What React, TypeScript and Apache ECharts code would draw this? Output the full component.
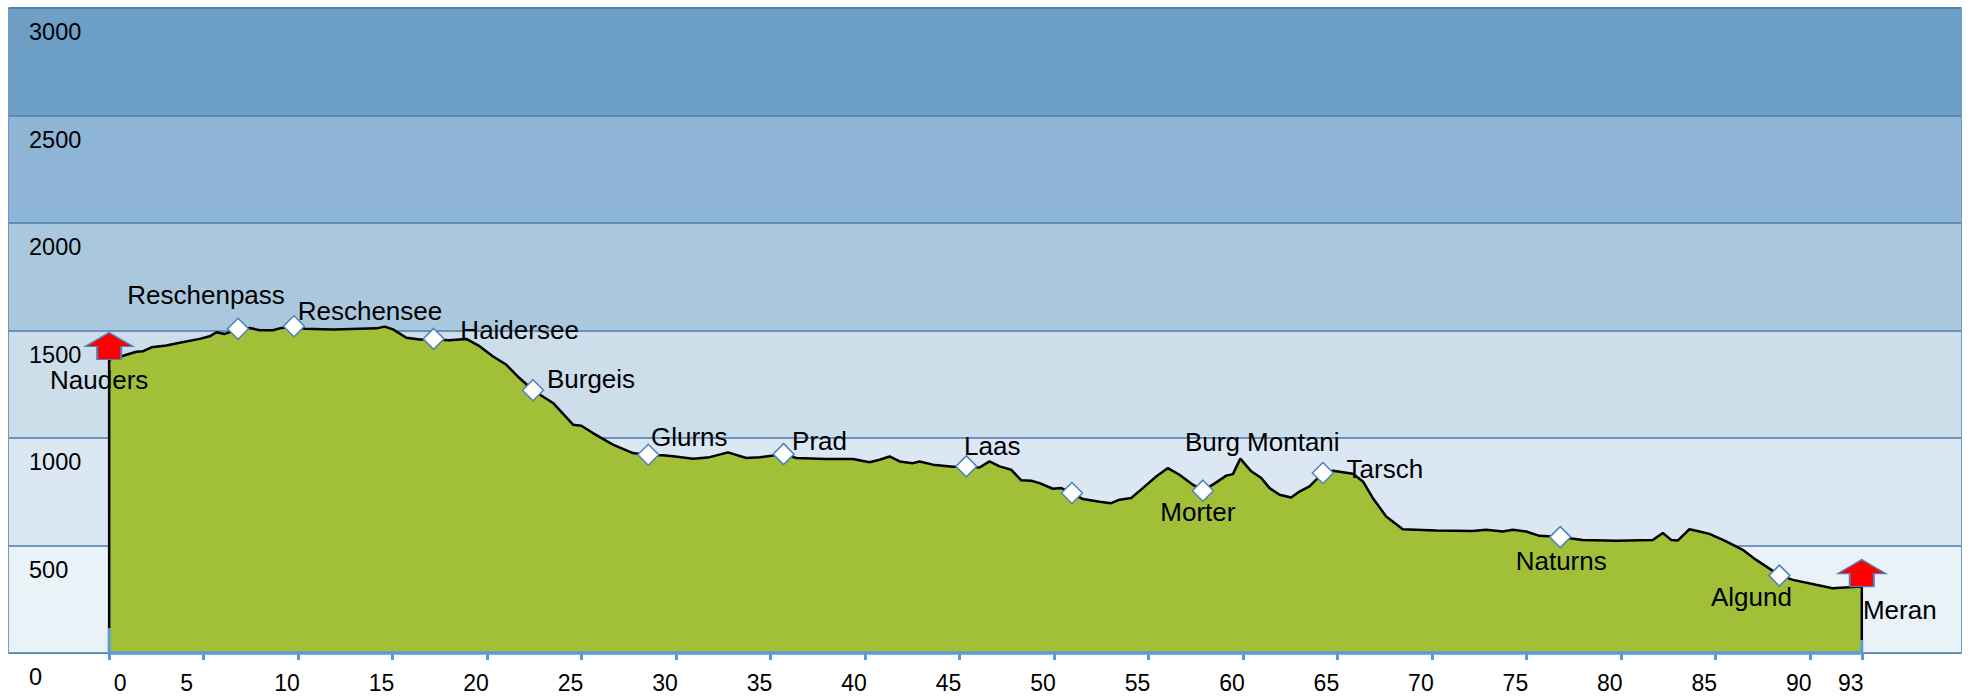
import { useEffect, useRef } from 'react';
import * as echarts from 'echarts';

// Elevation profile (km, metres)
const profileKm = [
  0, 0, 0.65, 1.44, 1.8, 2.24, 3.03, 3.73, 4.79, 5.32, 5.68, 6.12, 6.82, 7.44, 7.97, 8.67, 9.12, 9.78,
  10.35, 11.85, 13.26, 14.14, 14.58, 15.02, 15.73, 16.43, 17.17, 18.02, 18.9, 19.6, 20.3, 21.0, 21.7,
  22.43, 23.49, 24.55, 24.99, 25.6, 26.66, 27.72, 28.53, 29.3, 29.84, 30.9, 31.78, 32.75, 33.72, 34.42,
  35.69, 36.37, 37.95, 39.36, 40.24, 40.77, 41.3, 41.83, 42.53, 42.89, 43.59, 44.65, 45.36, 46.06, 46.59,
  47.12, 47.74, 48.27, 48.8, 49.24, 49.94, 50.39, 50.95, 51.53, 52.41, 53.03, 53.47, 54.09, 54.7, 55.41,
  56.03, 56.64, 57.35, 57.88, 58.41, 59.12, 59.47, 59.86, 60.44, 60.97, 61.41, 61.94, 62.55, 62.99, 63.52,
  64.23, 64.76, 65.82, 66.35, 66.87, 67.58, 68.46, 70.23, 72.17, 72.87, 73.75, 74.28, 74.99, 75.69, 76.79,
  77.98, 79.75, 81.69, 82.22, 82.66, 83.01, 83.63, 84.16, 84.69, 85.57, 86.45, 87.16, 88.39, 89.1, 90.33,
  91.2, 92.08, 92.75, 92.75,
];
const profileElev = [
  116, 1365, 1380, 1401, 1404, 1422, 1430, 1443, 1461, 1473, 1492, 1484, 1505, 1512, 1501, 1501, 1512, 1518,
  1508, 1505, 1508, 1510, 1518, 1505, 1466, 1458, 1458, 1455, 1461, 1427, 1380, 1342, 1280,
  1222, 1163, 1062, 1057, 1023, 969, 930, 920, 920, 915, 904, 911, 933, 907, 910,
  925, 907, 902, 902, 887, 899, 914, 891, 883, 891, 876, 866, 866, 863, 891,
  868, 852, 803, 801, 790, 764, 767, 744, 716, 703, 697, 713, 721, 767, 821,
  860, 829, 783, 755, 783, 825, 832, 904, 845, 814, 767, 736, 723, 751, 775,
  837, 848, 834, 798, 721, 635, 576, 570, 568, 573, 565, 573, 565, 545, 539,
  526, 522, 526, 558, 526, 523, 576, 565, 554, 519, 480, 433, 362, 340, 317,
  301, 306, 309, 60,
];

// Waypoints with diamond markers
const placeNames = ['Reschenpass', 'Reschensee', 'Haidersee', 'Burgeis', 'Glurns', 'Prad', 'Laas', '', 'Morter', 'Tarsch', 'Naturns', 'Algund'];
const placeKm = [6.82, 9.78, 17.17, 22.43, 28.53, 35.69, 45.36, 50.95, 57.88, 64.23, 76.79, 88.39];
const placeElev = [1508, 1520, 1461, 1222, 922, 925, 868, 744, 755, 837, 539, 360];

// Text-only labels
const textNames = ['Nauders', 'Burg Montani', 'Meran'];
const textKm = [0, 59.86, 92.75];
const textElev = [1365, 904, 309];

// Start / finish arrows
const endKm = [0, 92.75];
const endElev = [1365, 309];

// Small stubs under the start and finish
const stubKm = [0, 92.75];
const stubElev = [116, 60];

const kmTicks = [0, 5, 10, 15, 20, 25, 30, 35, 40, 45, 50, 55, 60, 65, 70, 75, 80, 85, 90, 92.75];
const kmTickLabels = ['0', '5', '10', '15', '20', '25', '30', '35', '40', '45', '50', '55', '60', '65', '70', '75', '80', '85', '90', '93'];

// label placement (style only)
const labelOffsets: Record<string, [number, number]> = {
  Reschenpass: [-32, -34],
  Reschensee: [76, -15],
  Haidersee: [86, -9],
  Burgeis: [58, -11],
  Glurns: [41, -18],
  Prad: [36, -13],
  Laas: [26, -20],
  Morter: [-5, 21],
  Tarsch: [62, -4],
  Naturns: [1, 24],
  Algund: [-28, 21],
  Nauders: [-10, 20],
  'Burg Montani': [22, -17],
  Meran: [38, 23],
};

const FONT = 'Liberation Sans, Arial, sans-serif';
const ARROW = 'path://M24,0 L48,14 L36,14 L36,27 L12,27 L12,14 L0,14 Z';

export default function App() {
  const ref = useRef<HTMLDivElement>(null);
  useEffect(() => {
    if (!ref.current) return;
    const chart = echarts.init(ref.current, null, { renderer: 'svg' });
    const profile = profileKm.map((k, i) => [k, profileElev[i]]);
    const places = placeKm.map((k, i) => ({
      value: [k, placeElev[i]],
      name: placeNames[i],
      label: { show: placeNames[i] !== '', offset: labelOffsets[placeNames[i]] || [0, 0] },
    }));
    const texts = textKm.map((k, i) => ({
      value: [k, textElev[i]],
      name: textNames[i],
      label: { show: true, offset: labelOffsets[textNames[i]] },
    }));
    const labelStyle = {
      show: true,
      position: 'inside',
      formatter: '{b}',
      color: '#000',
      opacity: 1,
      fontFamily: FONT,
      fontSize: 26,
      align: 'center',
      verticalAlign: 'middle',
    };
    chart.setOption({
      animation: false,
      grid: {
        left: 9,
        right: 10,
        top: 8,
        bottom: 44,
        show: true,
        borderColor: '#4a7aab',
        borderWidth: 1.5,
        backgroundColor: 'transparent',
      },
      xAxis: {
        type: 'value',
        min: -5.3,
        max: 98,
        splitLine: { show: false },
        axisLine: { show: false },
        axisTick: {
          show: true,
          customValues: kmTicks,
          length: 7,
          inside: false,
          lineStyle: { color: '#5b9bd5', width: 3 },
        },
        axisLabel: {
          customValues: kmTicks,
          margin: 18,
          color: '#000',
          fontFamily: FONT,
          fontSize: 23,
          formatter: (v: number) => {
            const idx = kmTicks.findIndex((t) => Math.abs(t - v) < 1e-6);
            const s = idx >= 0 ? kmTickLabels[idx] : '';
            if (s === '0') return '{a|0}';
            if (s === '5') return '{c|5}';
            return '{b|' + s + '}';
          },
          rich: {
            a: { padding: [0, 0, 0, 22], fontSize: 23, fontFamily: FONT, color: '#000' },
            b: { padding: [0, 22, 0, 0], fontSize: 23, fontFamily: FONT, color: '#000' },
            c: { padding: [0, 34, 0, 0], fontSize: 23, fontFamily: FONT, color: '#000' },
          },
        },
      },
      yAxis: {
        type: 'value',
        min: 0,
        max: 3000,
        interval: 500,
        axisLine: { show: false },
        axisTick: { show: false },
        axisLabel: {
          inside: true,
          margin: 20,
          verticalAlign: 'top',
          padding: [12, 0, 0, 0],
          color: '#000',
          fontFamily: FONT,
          fontSize: 23.5,
          formatter: (v: number) => String(v),
        },
        splitLine: { show: true, lineStyle: { color: '#4a7aab', width: 1.5 } },
        splitArea: {
          show: true,
          areaStyle: { color: ['#e9f2f7', '#dbe8f3', '#cbdeea', '#aac8dd', '#8fb5d6', '#6ea0c7'] },
        },
      },
      series: [
        {
          type: 'line',
          data: profile,
          symbol: 'none',
          lineStyle: { color: '#000', width: 2.5 },
          areaStyle: { color: '#a1bf37', opacity: 1, origin: 'start' },
          z: 2,
        },
        {
          type: 'line',
          data: [[0, 0], [92.75, 0]],
          symbol: 'none',
          clip: false,
          lineStyle: { color: '#5b9bd5', width: 3.5 },
          z: 3,
        },
        ...stubKm.map((k, i) => ({
          type: 'line',
          data: [[k, 0], [k, stubElev[i]]],
          symbol: 'none',
          clip: false,
          lineStyle: { color: '#5b9bd5', width: 3 },
          z: 3,
        })),
        {
          type: 'scatter',
          data: places,
          symbol: 'diamond',
          symbolSize: 21,
          itemStyle: { color: '#ffffff', borderColor: '#4f81bd', borderWidth: 1.5, opacity: 1 },
          label: labelStyle,
          z: 5,
        },
        {
          type: 'scatter',
          data: texts,
          symbol: 'circle',
          symbolSize: 0,
          itemStyle: { color: '#000000', opacity: 1 },
          label: labelStyle,
          z: 6,
        },
        {
          type: 'scatter',
          data: endKm.map((k, i) => [k, endElev[i]]),
          symbol: ARROW,
          symbolSize: [48, 27],
          symbolOffset: [0, -13.5],
          itemStyle: { color: '#ff0000', borderColor: '#4f81bd', borderWidth: 1.5, opacity: 1 },
          z: 7,
        },
      ],
    });
    return () => chart.dispose();
  }, []);
  return <div ref={ref} style={{ position: 'absolute', left: 0, top: 0, width: 1971, height: 697 }} />;
}
